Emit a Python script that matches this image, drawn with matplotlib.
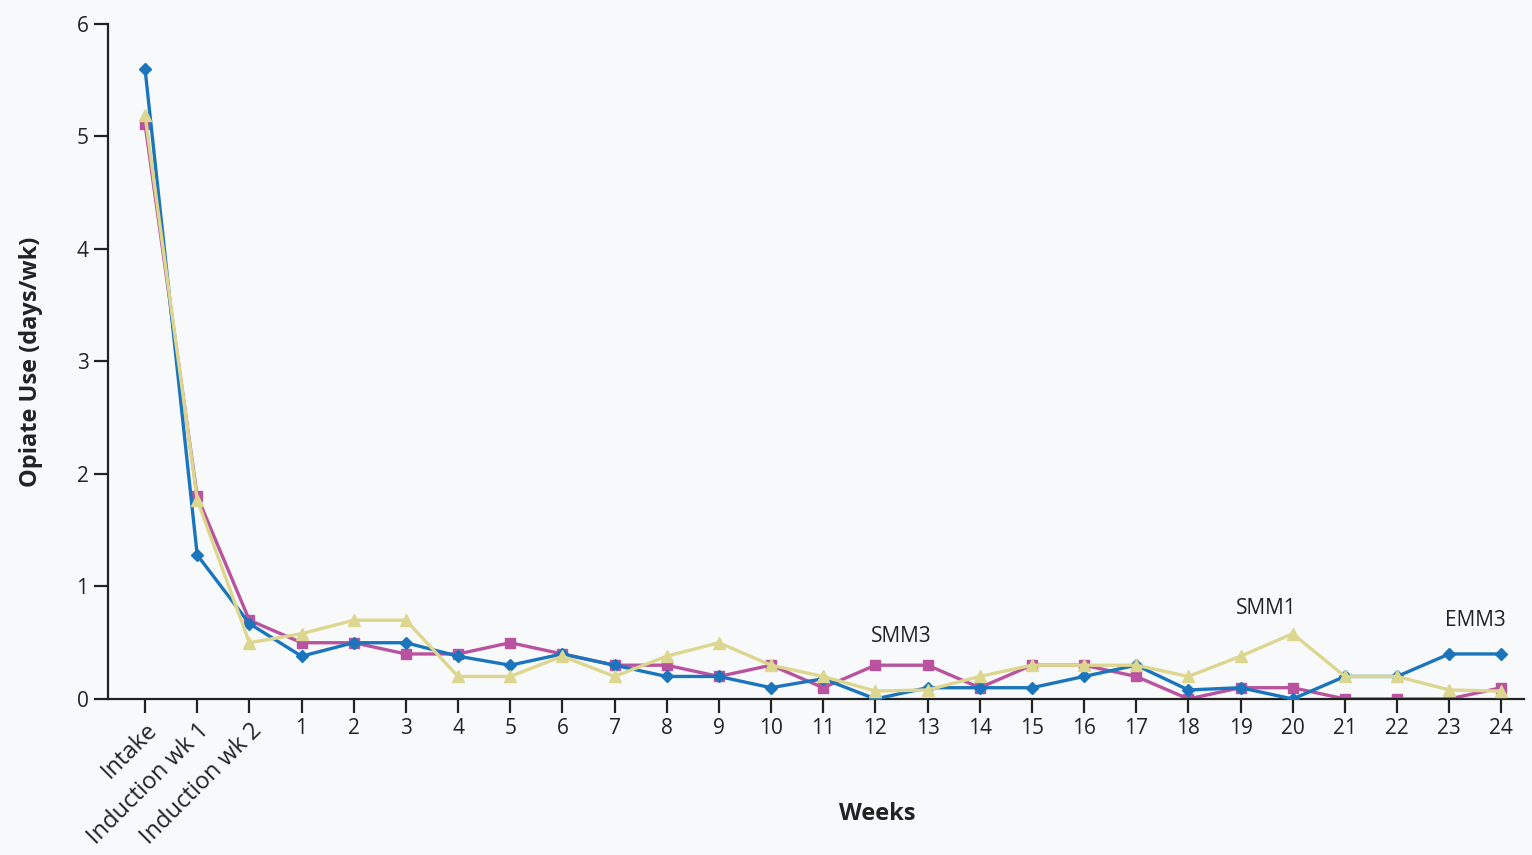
import numpy as np
import matplotlib
matplotlib.use("Agg")
import matplotlib.pyplot as plt

# weekly opiate use by group, intake through week 24
weeks = ["Intake", "Induction wk 1", "Induction wk 2"] + [str(w) for w in range(1, 25)]

blue = [5.6, 1.28, 0.67, 0.38, 0.5, 0.5, 0.38, 0.3, 0.4, 0.3, 0.2, 0.2, 0.1,
        0.18, 0.0, 0.1, 0.1, 0.1, 0.2, 0.3, 0.08, 0.1, 0.0, 0.2, 0.2, 0.4, 0.4]
magenta = [5.11, 1.8, 0.7, 0.5, 0.5, 0.4, 0.4, 0.5, 0.4, 0.3, 0.3, 0.2, 0.3,
           0.1, 0.3, 0.3, 0.1, 0.3, 0.3, 0.2, 0.0, 0.1, 0.1, 0.0, 0.0, 0.0, 0.1]
yellow = [5.19, 1.77, 0.5, 0.58, 0.7, 0.7, 0.2, 0.2, 0.38, 0.2, 0.38, 0.5, 0.3,
          0.2, 0.07, 0.08, 0.2, 0.3, 0.3, 0.3, 0.2, 0.38, 0.58, 0.2, 0.2, 0.08, 0.07]

# group labels placed above the curves (week, y)
notes = [("SMM3", 12.5, 0.46), ("SMM1", 19.5, 0.71), ("EMM3", 23.5, 0.6)]

plt.rcParams["font.family"] = ["Open Sans", "DejaVu Sans"]
bg = "#f8f9fa"
ink = "#222222"
fig = plt.figure(figsize=(15.32, 8.55), dpi=100, facecolor=bg)
ax = fig.add_axes([0.0705, 0.1825, 0.9245, 0.7895], facecolor=bg)

x = np.arange(len(weeks))
ax.plot(x, blue, color="#1a75bc", lw=2.4, marker="D", ms=6.5, zorder=3)
ax.plot(x, magenta, color="#b9539f", lw=2.4, marker="s", ms=7.5, zorder=2)
ax.plot(x, yellow, color="#dcd68e", lw=2.4, marker="^", ms=8, zorder=4)

# week numbers start after the three intake/induction points
for txt, wk, yi in notes:
    ax.text(wk + 2, yi, txt, ha="center", va="bottom", fontsize=15, color=ink)

ax.set_xlim(-0.71, 26.44)
ax.set_ylim(0, 6)
ax.set_yticks(range(0, 7))
ax.set_xticks(x)
ax.set_xticklabels(weeks)

for s in ["top", "right"]:
    ax.spines[s].set_visible(False)
for s in ["left", "bottom"]:
    ax.spines[s].set_linewidth(1.6)
    ax.spines[s].set_color(ink)
ax.tick_params(axis="both", length=10, width=1.6, color=ink,
               labelsize=15, labelcolor=ink, pad=4)

for lbl in ax.get_xticklabels()[:3]:
    lbl.set_rotation(45)
    lbl.set_ha("right")
    lbl.set_rotation_mode("anchor")
    lbl.set_fontsize(17)

ax.set_ylabel("Opiate Use (days/wk)", fontsize=17, fontweight="bold", color=ink)
ax.yaxis.set_label_coords(-0.046, 0.5)
ax.set_xlabel("Weeks", fontsize=17, fontweight="bold", color=ink)
ax.xaxis.set_label_coords(0.543, -0.153)

fig.savefig("out.png", dpi=100, facecolor=bg)
